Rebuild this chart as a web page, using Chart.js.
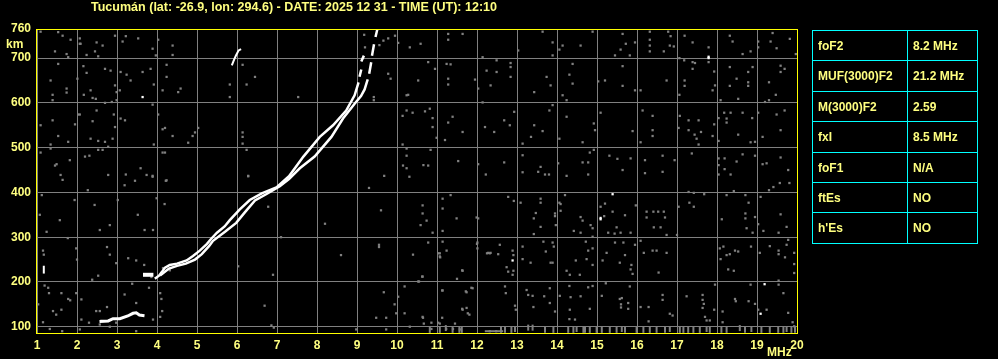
<!DOCTYPE html>
<html>
<head>
<meta charset="utf-8">
<script src="https://cdn.jsdelivr.net/npm/chart.js@4.4.1/dist/chart.umd.min.js"></script>
<style>
  html, body { margin: 0; padding: 0; background: #000; }
  #wrap { position: relative; width: 998px; height: 359px; overflow: hidden; background: #000; }
  #ionogram { position: absolute; left: 0; top: 0; }
  .lbl { position: absolute; color: #ffff80; font: bold 12px "Liberation Sans", Arial, sans-serif; white-space: nowrap; line-height: 12px; }
  #title { left: 91px; top: 0px; font-size: 13px; line-height: 13px; transform-origin: 0 0; }
  #km { left: 6px; top: 38px; }
  #mhz { left: 767px; top: 346px; }
  .tline { position: absolute; background: #00ffff; }
  .cell { position: absolute; height: 30px; line-height: 30px; padding-top: 1px; }
</style>
</head>
<body>
<div id="wrap">
  <canvas id="ionogram" width="998" height="359"></canvas>
  <div class="lbl" id="title">Tucumán (lat: -26.9, lon: 294.6) - DATE: 2025 12 31 - TIME (UT): 12:10</div>
  <div class="lbl" id="km">km</div>
  <div class="lbl" id="mhz">MHz</div>
</div>
<script>
// axes
const freqTicks = [1,2,3,4,5,6,7,8,9,10,11,12,13,14,15,16,17,18,19,20];
const heightTicks = [100,200,300,400,500,600,700,765];
const heightTickLabels = ['100','200','300','400','500','600','700','760'];

// scaled parameters (right hand table)
const paramNames = ['foF2', 'MUF(3000)F2', 'M(3000)F2', 'fxI', 'foF1', 'ftEs', "h'Es"];
const paramValues = ['8.2 MHz', '21.2 MHz', '2.59', '8.5 MHz', 'N/A', 'NO', 'NO'];

// echo traces, frequency (MHz) / virtual height (km); null = gap
const eTraceF = [2.6, 2.78, 2.9, 3.07, 3.27, 3.4, 3.48, 3.56, 3.65];
const eTraceH = [112, 113, 118, 118, 124, 130, 131, 126, 125];
const fStartF = [3.7, 3.86];
const fStartH = [216, 216];
const oTraceF = [3.97,4.05,4.12,4.2,4.32,4.5,4.74,4.9,5.07,5.25,5.35,5.5,5.69,5.82,6.07,6.32,6.62,7.0,7.3,7.66,8.07,8.4,8.73,8.94,9.03,null,9.07,9.1,null,9.12,9.16];
const oTraceH = [209,214,222,232,238,241,248,258,270,285,296,310,324,338,362,383,398,412,436,480,524,550,583,617,643,null,661,672,null,695,703];
const xTraceF = [4.1,4.3,4.5,4.72,4.95,5.12,5.3,5.4,5.7,5.98,6.2,6.45,6.75,7.07,7.3,7.57,7.94,8.36,8.65,8.94,9.1,9.19,9.26,null,9.31,9.35,null,9.38,9.42,null,9.47,9.5];
const xTraceH = [216,230,236,241,250,262,280,292,312,332,356,382,397,414,430,454,480,524,565,598,615,630,650,null,668,688,null,708,728,null,750,761];
const strayF = [5.88, 5.93, 5.98, 6.04, 6.08];
const strayH = [686, 697, 707, 717, 719];
const spikeF = [1.17, 1.17];
const spikeH = [221, 234];
const whiteSpots = [[3.64,613],[17.79,700],[17.79,703],[15.39,396],[15.09,340],[15.09,343],[12.89,248],[19.19,195],[19.09,129]];

// background noise
const noiseUpperLeft = [
  [1.09,759],[1.53,758],[1.64,750],[1.84,741],[2.07,744],[2.07,732],[2.09,732],[1.45,715],[1.74,709],[1.78,702],[2.24,707],[2.45,715],
  [2.53,704],[2.64,728],[2.49,735],[2.95,750],[3.22,749],[3.14,737],[3.53,744],[3.89,721],[4.03,741],[3.97,706],[4.39,728],[1.53,687],
  [2.16,682],[2.24,667],[2.01,654],[1.34,650],[1.74,632],[1.74,623],[1.39,618],[1.39,606],[2.17,618],[2.34,628],[2.39,611],[2.47,609],
  [2.7,600],[2.87,602],[2.99,624],[3.07,628],[2.99,606],[2.7,676],[2.84,672],[2.95,639],[3.09,669],[3.24,663],[3.34,650],[3.64,669],
  [3.84,676],[3.92,641],[4.14,628],[4.24,685],[4.24,658],[4.39,707],[4.53,624],[4.59,632],
  [1.09,550],[1.39,561],[1.53,526],[1.78,513],[1.95,552],[2.03,574],[2.07,574],[2.39,559],[2.34,520],[2.53,515],[2.7,513],[2.78,502],
  [2.89,520],[2.95,546],[2.92,574],[2.49,583],[3.09,565],[3.2,561],[3.89,596],[4.03,574],[4.14,541],[4.2,544],[3.92,507],[4.39,526],
  [4.89,526],[4.95,534],[5.03,544],[4.78,511],[1.34,507],[1.34,498],[1.09,489],[1.45,460],[1.49,463],[1.59,439],[1.64,428],[1.82,472],
  [2.2,480],[2.31,482],[2.53,495],[2.64,495],[2.78,439],[3.22,440],[3.45,426],[3.59,454],[3.74,439],[3.89,435],[4.14,489],[4.2,489],
  [4.22,426],[5.82,641],[5.82,613],[6.24,641],[6.45,658],[6.14,685],[6.14,534],[6.14,524],[6.14,509],[6.24,495],[6.28,437],[7.53,613],
  [9.42,613],[9.42,606],[9.78,665],[9.84,654],[10.14,571],[10.24,583],[10.39,578],[10.14,507],[10.24,498],[10.24,482],[10.15,460],
  [10.24,454],[10.31,435],[9.68,437],[9.56,729],[9.66,739],[9.78,744],[9.95,750],[10.03,734],[10.32,724],[10.24,617],[10.28,618],
  [9.2,724],[9.18,752]
];
const noiseUpperRight = [
  [11.28,754],[11.64,754],[10.59,732],[11.28,741],[13.64,759],[14.89,759],[15.64,754],[16.32,759],[16.78,759],[16.84,749],[16.32,741],
  [15.72,732],[15.95,735],[16.32,728],[16.82,728],[16.92,726],[15.59,719],[15.45,706],[15.82,706],[16.32,715],[16.67,715],[17.19,750],
  [17.39,735],[17.79,724],[18.32,750],[18.39,737],[18.64,709],[18.84,715],[19.03,737],[19.03,724],[19.34,737],[19.39,756],[19.49,722],
  [19.82,743],[19.97,709],[13.03,717],[13.89,735],[13.89,706],[14.14,728],[14.59,728],[14.06,719],[10.78,691],[11.24,687],[11.34,686],
  [10.95,676],[10.53,650],[11.28,654],[11.28,641],[11.95,652],[12.14,702],[12.49,695],[12.84,689],[12.84,680],[12.24,672],[12.49,669],
  [12.84,658],[12.34,639],[12.03,632],[12.14,601],[13.74,658],[13.84,639],[13.43,624],[14.14,617],[14.24,606],[14.39,687],[14.31,663],
  [14.39,643],[15.03,648],[15.2,650],[15.64,682],[15.64,638],[15.95,628],[16.09,628],[16.74,650],[17.06,700],[17.18,695],[17.39,691],
  [17.39,676],[17.45,689],[17.19,650],[17.19,638],[17.06,618],[17.79,691],[17.93,670],[17.95,639],[17.89,628],[18.09,606],[18.32,680],
  [18.32,638],[18.49,654],[18.53,609],[18.78,669],[18.78,646],[18.78,638],[18.89,680],[19.3,646],[19.47,618],[19.59,683],[19.59,669],
  [19.69,676],[19.2,602],[19.3,606],[10.7,581],[10.82,587],[10.89,566],[10.89,546],[11.28,556],[11.39,569],[10.99,522],[11.2,517],
  [11.64,535],[12.2,546],[12.43,535],[12.68,561],[12.82,550],[12.93,580],[13.14,509],[13.35,524],[13.43,550],[13.64,537],[13.81,583],
  [13.89,595],[14.06,520],[14.24,569],[14.64,512],[14.92,554],[14.95,539],[15.09,578],[15.89,537],[16.14,583],[16.39,571],[16.39,539],
  [16.39,526],[16.09,512],[17.07,571],[17.04,544],[17.29,561],[17.54,561],[17.29,539],[17.44,529],[17.6,535],[17.49,520],[17.54,507],
  [17.93,552],[17.89,526],[18.04,515],[18.04,566],[18.24,565],[18.24,556],[18.18,578],[18.34,578],[18.64,578],[18.53,529],[18.88,566],
  [19.03,578],[19.14,524],[18.84,512],[18.95,513],[19.49,574],[19.69,583],[19.59,539],[10.84,495],[10.66,461],[10.78,460],[11.53,470],
  [12.03,463],[12.22,440],[12.68,467],[13.14,483],[13.14,445],[13.59,457],[13.53,446],[13.7,440],[13.8,440],[14.03,465],[14.24,437],
  [14.64,467],[14.78,467],[14.78,440],[14.92,495],[14.82,489],[15.31,482],[15.51,475],[15.64,450],[15.84,476],[16.2,472],[16.2,443],
  [16.64,482],[16.64,446],[16.94,472],[17.37,487],[18.04,476],[18.04,461],[18.04,440],[18.19,476],[18.19,452],[18.34,440],[18.49,469],
  [18.64,485],[18.95,482],[19.14,463],[19.24,465],[19.59,478],[19.78,450]
];
const noiseLowerLeft = [
  [1.15,270],[1.17,261],[1.98,275],[2.0,250],[2.75,278],[2.82,261],[2.98,242],[2.53,214],[2.38,205],[1.98,175],[2.11,161],[1.78,162],
  [1.83,159],[1.61,175],[1.28,187],[1.3,175],[1.19,192],[1.03,150],[1.4,135],[1.48,127],[1.61,138],[2.11,116],[2.3,109],[2.48,135],
  [2.57,135],[2.75,144],[2.57,105],[2.82,100],[2.98,109],[3.19,172],[3.38,196],[3.48,153],[3.8,187],[4.11,162],[4.08,175],[4.13,135],
  [4.08,122],[3.9,116],[1.15,110],[1.32,95],[1.63,90],[2.07,94],[3.48,90],[3.28,253],[3.48,248],[3.68,238],[6.03,235],[6.9,216],
  [6.69,147],[6.86,103],[6.92,98],[8.98,94],[9.55,283],[9.55,278],[10.4,261],[10.55,201],[10.63,212],[9.67,177],[10.03,167],[9.94,150],
  [10.19,130],[10.19,190],[9.48,120],[9.73,120],[9.98,130],[10.65,120],[10.86,109],[11.03,109],[11.13,120],[11.13,181],[11.63,226],
  [11.72,179],[11.63,140],[11.77,130],[11.86,187],[11.07,264],[11.08,255],[11.5,207],[12.0,285],[12.25,264],[12.32,264],[9.73,94],
  [10.32,100],[10.86,95],[11.23,95],[11.4,95],[11.57,94],[12.32,90],[12.48,90],[3.86,211],[4.15,231],[4.32,226],
  [1.07,350],[1.24,312],[1.57,338],[1.94,383],[2.44,372],[2.57,316],[3.02,383],[3.19,416],[3.52,350],[3.69,316],[1.12,394],[1.77,298],
  [2.27,405],[2.82,327],[3.89,437],[4.24,427],[4.19,374],[3.99,387],[3.9,316],[6.28,436],[6.78,368],[7.1,300],[8.2,330],[9.3,410],
  [9.6,360],[8.6,260]
];
const noiseLowerRight = [
  [10.64,371],[10.64,353],[10.59,327],[10.89,310],[10.74,337],[11.14,386],[11.34,394],[11.14,364],[11.14,314],[11.49,342],[11.99,344],
  [12.03,342],[12.78,390],[12.92,381],[13.09,377],[13.59,386],[13.59,377],[13.47,354],[13.42,342],[13.59,323],[13.42,307],[13.95,353],
  [13.95,347],[13.97,327],[14.06,377],[14.09,374],[14.09,359],[14.2,394],[14.59,345],[14.64,337],[14.42,314],[14.59,310],[14.84,327],
  [14.89,320],[14.89,301],[15.09,368],[15.18,347],[15.2,375],[15.39,357],[15.28,310],[15.44,308],[15.49,322],[15.59,310],[15.7,349],
  [15.84,310],[15.97,371],[16.24,357],[16.24,344],[16.41,357],[16.53,357],[16.67,357],[16.7,344],[16.42,322],[16.59,322],[16.74,305],
  [17.0,305],[17.04,368],[17.31,377],[17.42,368],[17.29,401],[17.42,399],[17.68,396],[18.12,340],[18.24,394],[18.42,403],[18.71,394],
  [18.79,377],[18.71,353],[18.71,342],[18.74,320],[18.89,310],[18.95,345],[19.03,329],[19.09,390],[19.16,314],[19.3,405],[19.41,412],
  [19.54,310],[19.59,351],[19.74,323],[19.57,421],[19.81,421],
  [10.78,288],[11.03,264],[11.07,257],[11.24,270],[11.14,290],[11.64,225],[12.01,288],[12.01,275],[12.28,265],[12.34,265],[12.53,262],
  [12.57,283],[12.74,233],[12.78,223],[12.89,270],[12.91,260],[12.91,225],[12.89,216],[13.14,279],[13.14,251],[13.34,243],[13.66,290],
  [13.72,268],[13.89,288],[13.92,279],[13.84,243],[13.89,243],[14.24,225],[14.32,216],[14.47,248],[14.57,216],[14.72,290],[14.78,270],
  [14.89,275],[14.89,238],[14.74,251],[15.14,248],[15.24,265],[15.45,288],[15.57,243],[15.66,288],[15.7,260],[15.86,238],[15.84,228],
  [15.89,218],[15.95,283],[16.09,292],[16.17,265],[16.39,270],[16.49,270],[16.74,265],[16.54,221],[18.07,275],[18.16,279],[18.24,260],
  [18.32,262],[18.45,270],[18.53,268],[18.09,251],[18.28,228],[18.42,225],[18.85,279],[19.07,265],[19.32,280],[19.54,270],[19.54,262],
  [19.74,283],[19.78,294],[19.7,255],[19.93,265],[19.93,240],[19.93,220],
  [10.53,201],[10.64,212],[11.14,181],[11.74,177],[11.89,186],[11.64,138],[11.74,142],[11.81,127],[10.64,122],[10.67,107],[11.07,107],
  [11.45,107],[12.7,190],[12.72,175],[12.95,147],[12.97,138],[13.24,182],[13.28,171],[13.39,169],[13.41,144],[13.68,168],[13.82,186],
  [13.82,153],[13.95,134],[14.07,169],[14.31,191],[14.34,166],[14.32,138],[14.31,117],[14.45,116],[14.59,168],[14.78,188],[14.89,191],
  [14.82,140],[15.12,169],[15.22,197],[15.62,164],[15.57,162],[15.6,150],[15.6,143],[15.78,153],[15.78,140],[15.82,190],[16.09,144],
  [16.29,144],[16.29,112],[16.64,171],[16.64,160],[16.82,129],[16.89,125],[17.24,168],[17.64,171],[17.64,160],[17.64,142],[17.67,151],
  [17.7,122],[17.74,114],[17.82,114],[17.93,138],[17.95,194],[18.14,134],[18.14,110],[18.45,162],[18.47,157],[18.79,157],[18.84,194],
  [18.95,151],[19.03,138],[19.24,138],[19.54,203],[19.54,194],[19.66,175],[19.78,131],[19.89,110],[19.93,101]
];
const bottomBarF = [10.82,11.07,11.22,11.39,11.56,11.62,12.6,12.7,12.86,12.95,13.28,13.39,13.7,13.91,14.28,14.41,14.49,14.66,14.7,14.82,
  14.99,15.12,15.32,15.49,15.62,15.7,15.99,16.16,16.32,16.49,16.7,16.82,17.07,17.16,17.28,17.41,17.57,17.74,17.82,18.11,18.24,18.57,
  18.7,18.86,19.11,19.32,19.53,19.66,19.74,19.86,19.95];
const bottomBarH = [93,93,97,93,93,93,93,93,93,95,98,98,93,93,93,93,95,93,93,93,93,93,93,93,95,93,93,93,93,93,93,95,93,93,93,93,93,
  95,93,93,93,97,93,95,93,93,93,93,95,93,93];
const bottomStreakF = [12.22, 12.63];
const bottomStreakH = [90, 90];

const textColor = '#ffff80';
const gray = '#808080';
const fontFamily = '"Liberation Sans", Arial, sans-serif';

const zip = (fs, hs) => fs.map((f, i) => ({ x: f, y: hs[i] }));
const pairs = list => list.map(p => ({ x: p[0], y: p[1] }));

const trace = (data, width, color) => ({
  data: data,
  showLine: true,
  borderColor: color || '#ffffff',
  borderWidth: width,
  pointRadius: 0,
  spanGaps: false,
  tension: 0,
  borderCapStyle: 'square'
});
const specks = (data, color) => ({
  data: data,
  pointStyle: 'rect',
  pointRadius: 1.6,
  backgroundColor: color,
  borderWidth: 0
});

// yellow frame round the plot
const frame = {
  id: 'frame',
  afterDatasetsDraw(chart) {
    const a = chart.chartArea;
    const ctx = chart.ctx;
    ctx.save();
    ctx.strokeStyle = '#ffff00';
    ctx.lineWidth = 1;
    ctx.strokeRect(Math.round(a.left) - 0.5, Math.round(a.top) + 0.5, Math.round(a.right - a.left) + 1, Math.round(a.bottom - a.top));
    ctx.restore();
  }
};

new Chart(document.getElementById('ionogram'), {
  type: 'scatter',
  data: {
    datasets: [
      trace(zip(oTraceF, oTraceH), 2.5),
      trace(zip(xTraceF, xTraceH), 2.5),
      trace(zip(eTraceF, eTraceH), 3),
      trace(zip(fStartF, fStartH), 4),
      trace(zip(strayF, strayH), 2),
      trace(zip(spikeF, spikeH), 2),
      specks(pairs(whiteSpots), '#ffffff'),
      trace(zip(bottomStreakF, bottomStreakH), 2, gray),
      {
        data: zip(bottomBarF, bottomBarH),
        pointStyle: 'line',
        rotation: 90,
        pointRadius: 3,
        borderColor: gray,
        borderWidth: 2
      },
      specks(pairs(noiseUpperLeft), gray),
      specks(pairs(noiseUpperRight), gray),
      specks(pairs(noiseLowerLeft), gray),
      specks(pairs(noiseLowerRight), gray)
    ]
  },
  options: {
    responsive: false,
    animation: false,
    events: [],
    layout: { padding: { left: 0, top: 29, right: 201, bottom: 0 } },
    plugins: { legend: { display: false }, tooltip: { enabled: false } },
    scales: {
      x: {
        type: 'linear',
        min: 1,
        max: 20,
        afterBuildTicks: s => { s.ticks = freqTicks.map(v => ({ value: v })); },
        afterFit: s => { s.height = 26; },
        ticks: { color: textColor, font: { family: fontFamily, size: 12, weight: 'bold' }, padding: 5, maxRotation: 0, autoSkip: false },
        grid: { color: gray, lineWidth: 1, drawTicks: false },
        border: { display: false }
      },
      y: {
        type: 'linear',
        min: 86,
        max: 765,
        afterBuildTicks: s => { s.ticks = heightTicks.map(v => ({ value: v })); },
        afterFit: s => { s.width = 37; },
        ticks: {
          color: textColor,
          font: { family: fontFamily, size: 12, weight: 'bold' },
          padding: 6,
          autoSkip: false,
          callback: (v, i) => heightTickLabels[i]
        },
        grid: { color: gray, lineWidth: 1, drawTicks: false },
        border: { display: false }
      }
    }
  },
  plugins: [frame]
});

// parameter table
const wrap = document.getElementById('wrap');
const rowTop = i => 30 + Math.round(i * 30.4);
function addLine(x, y, w, h) {
  const d = document.createElement('div');
  d.className = 'tline';
  d.style.left = x + 'px'; d.style.top = y + 'px';
  d.style.width = w + 'px'; d.style.height = h + 'px';
  wrap.appendChild(d);
}
const tableBottom = rowTop(paramNames.length);
for (let i = 0; i <= paramNames.length; i++) addLine(812, rowTop(i), 166, 1);
addLine(812, 30, 1, tableBottom - 30 + 1);
addLine(907, 30, 1, tableBottom - 30 + 1);
addLine(977, 30, 1, tableBottom - 30 + 1);
paramNames.forEach((name, i) => {
  [[name, 818], [paramValues[i], 913]].forEach(([txt, x]) => {
    const c = document.createElement('div');
    c.className = 'lbl cell';
    c.textContent = txt;
    c.style.left = x + 'px';
    c.style.top = rowTop(i) + 'px';
    wrap.appendChild(c);
  });
});

// squeeze the title to the width it has in the original
const title = document.getElementById('title');
const tw = title.getBoundingClientRect().width;
title.style.transform = 'scaleX(' + (406 / tw) + ')';
</script>
</body>
</html>
